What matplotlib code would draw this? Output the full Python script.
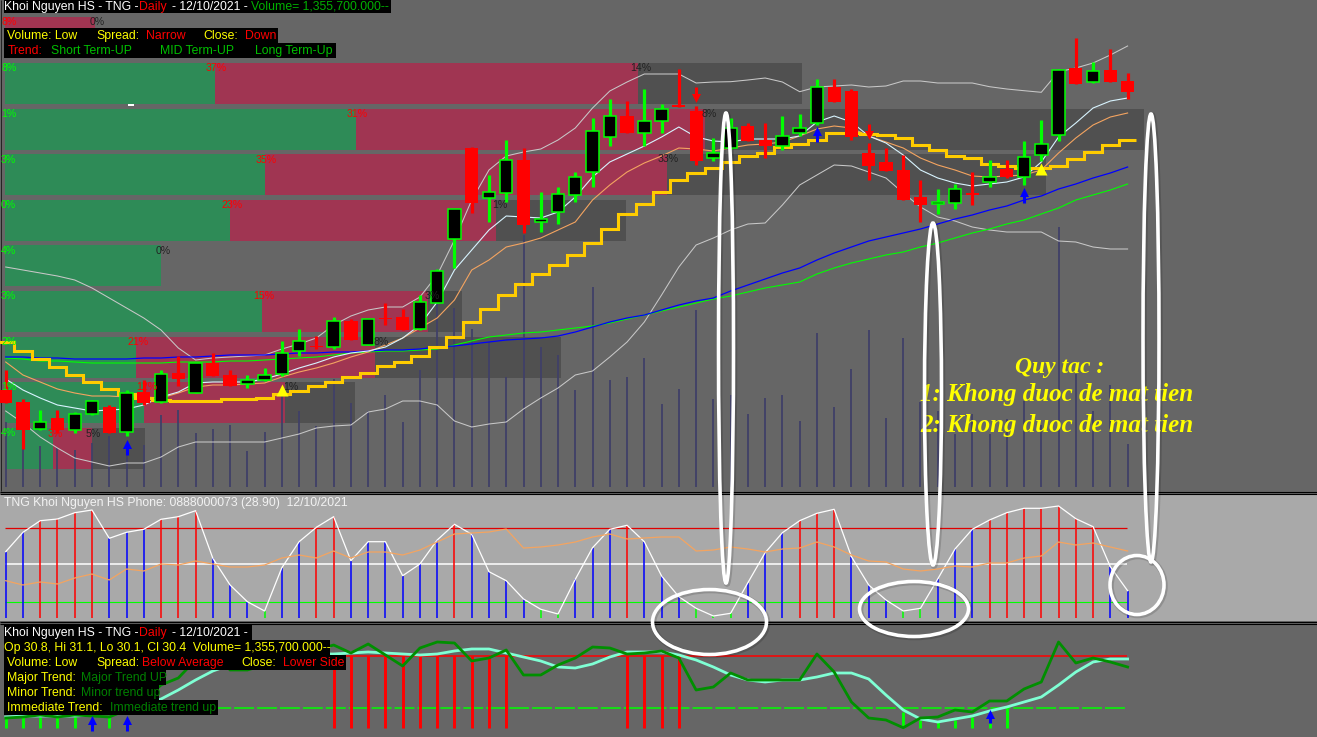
import numpy as np
import matplotlib
matplotlib.use("Agg")
import matplotlib.pyplot as plt
from matplotlib.patches import Ellipse, Rectangle

plt.rcParams['font.family'] = ['Liberation Sans', 'DejaVu Sans']

n_bars = 66
x0 = 5.7
step = 17.26

body_top = [389.5,401.7,422,418.3,414,400.7,406.7,392.7,391.7,373.7,372.7,363.3,362.7,375.3,380,375.3,353.3,341.3,345.7,321.3,
            320.7,319.3,318,316.7,302.3,270.7,209.3,147.7,192.3,160.3,160,219.3,194,177,131,116,115.7,121.3,109.3,105.3,
            110.7,153.3,128.3,125.7,140,136.3,128.3,87.3,87.3,91,152.7,162,169.7,196.7,202.3,189.3,193.3,176.7,169.3,157.3,
            144.3,70.3,67.7,70.7,70,81]
body_bot = [402.7,430,429.3,430,430,414.3,432.7,432.3,403.3,402.3,379,392.7,376,385.7,383.7,380.3,373.7,351.3,347,346.7,
            340,344.7,319,330,329.3,302.7,238.7,203.3,197.7,192.7,225,221.7,211.7,194.7,172.3,136.7,133.3,133.3,121.3,106.7,
            161,158.3,148.3,140.7,146,145.7,133.3,123.3,101.7,136.7,165.7,171,200,205,204.3,202.7,194.7,181.7,177.3,176.7,
            155.3,134.7,83.7,81.7,81.7,91.7]
wick_top = [370,399,410,410,412,400,405,390,380,370,356,363,352.7,370,375,367.7,341,329,336,316.7,
            319.3,319,303.3,309,295,269,209,147,175,140,147.7,192.3,187,171.7,118,99.3,101,89,104,69.3,
            106,138,118,123,123,116,114,79,79,89.3,143,147.7,155.3,180,189,184,172.3,160,160,141,
            120,69,38,62,49,73.3]
wick_low = [403,449,430,432.7,432.7,415,433,436,405,403,385.7,393,376,385.7,387.7,380.7,376,356,348.7,349,
            340,345,325,330,330,303,268.3,213.3,221.7,202.3,233.3,231.7,224.3,201.7,187.3,145.7,133.3,145.7,133.3,106.7,
            165.3,160.7,148.5,140.7,158,150,135.7,125,101.7,140,180,171,200,221.7,214.3,209.3,204.7,186.7,178,185,
            160.7,141,83.7,83,81.7,99]
# u = black body with green border, d = red body
candle_dir = ['d','d','u','d','u','u','d','u','d','u','d','u','d','d','u','u','u','u','d','u',
              'd','u','d','d','u','u','u','d','u','u','d','u','u','u','u','u','d','u','u','d',
              'd','u','u','d','d','u','u','u','d','d','d','d','d','d','u','u','d','u','d','u',
              'u','u','d','u','d','d']

volume_top = [422,449,446,448,450,443,436,450,445,415,410,433,429,425,451,432,393,411,426,379,
              403,411,395,422,370,300,308,329,342,377,235,347,355,390,287,380,377,358,404,389,
              310,399,395,414,398,395,421,333,407,369,330,418,338,402,411,434,414,434,419,401,
              425,227,374,411,385,444]

bb_upper = [267,270,273,276,280,288,298,308,318,330,348,360,358,357,356,355,349,344,338,325,
            316,310,307,307,297,275,240,200,170,156,152,149,140,128,108,91,82,74,74,74,
            83,82,81.7,80,78,82,91.7,87,86,85,87,86,81,81,83,83,83,86.7,89,90.7,
            92.3,71.7,68,63,55,46]
bb_lower = [411,423,437,448,458,462,466,463,463,457,447,442,442,442,442,442,438,434,428,426,
            425,412,409,401,401,405,421,427,424,422,409,398,388,375,371,357,342,322,295,267,
            245,238,230,224,223,205,185,175,165,166,172,178,193,207,217,221,227,230,232,232,
            232,241,242,247,249,249]
ma_short = [379,390,398,405,408,411,410,409,405,397,392,383,382,382,382,379,374,368,363,357,
            353,351,347,338,325,302,270,250,230,216,217,218,212,197,177,162,154,146,137,127,
            137,141,142,139,139,139,136,122,116,122,136,143,155,170,178,183,186,184,182,177,
            162,137,123,108,101,98]
ma_orange = [362,375,382,389,393,396,396,397,397,398,393,387,385,385,384,383,377,372,368,363,
             357,352,345,338,328,318,300,270,260,247,243,238,230,222,200,185,172,163,156,148,
             149,151,148,145,144,142,136,129,126,128,136,142,148,158,165,170,176,177,176,175,
             170,153,138,125,117,113]
ma_blue = [357,357,358,358,359,359,359,359,358,358,357,357,356,355,355,355,354,353,353,352,
           352,351,350,350,349,347,346,344,342,340,339,338,336,332,327,322,318,315,310,305,
           301,298,291,285,279,273,268,260,253,247,241,237,233,229,224,219,215,210,206,200,
           196,189,184,178,173,167]
ma_green = [358,359,361,361,362,363,363,363,363,363,362,362,362,361,361,360,359,358,357,355,
            353,352,351,351,350,349,345,341,337,335,333,332,330,328,326,323,319,315,311,307,
            303,299,296,292,288,285,282,274,268,263,259,255,252,247,243,238,233,229,224,220,
            214,208,200,195,190,184]
stop_line = [342,351,359,367,375,382,389,394,398,400,401,401,401,399,399,398,394,391,386,382,
             377,373,366,362,356,347,337,322,309,295,284,274,265,255,243,229,214,204,192,180,
             173,168,162,156,153,147,144,140,133,133,134,135,138,145,150,156,158,164,166,168,
             168,166,159,152,145,140]

# zone blocks of the top pane
zone_top = [63,109,154,200,245,291,337,382,428]
zone_green_end = [215,356,265,230,161,262,136,144,53]
zone_red_end = [638,705,667,496,161,428,375,285,92]
zone_dark_end = [802,1144,1046,626,161,462,561,355,145]

# oscillator pane
osc_top = [551.7,532.3,520.7,519,512.7,510,538.3,532.3,529.3,519.3,516.7,510.7,558.3,585,601.7,611,567.7,541.7,527.3,516.7,
           560.7,541.7,541.7,575.7,564,540,524.3,534.3,571.7,580.7,599,609.3,614,579.3,547.7,529.3,525.3,541.7,576,596.7,
           608.3,616,613.3,582.7,552.7,532.7,520.7,513.3,509.3,556.7,585,600,611,608.3,579,549,529.3,520,512.7,508.3,
           508.3,506,518.7,526.7,566.7,590.7]
osc_color = ['b','b','r','r','r','r','b','b','b','r','r','r','b','b','b','g','b','b','r','r',
             'b','b','b','b','b','b','r','b','b','b','b','g','g','b','b','b','r','b','b','b',
             'g','g','g','b','b','b','r','r','r','b','b','b','g','g','b','b','b','r','r','r',
             'r','r','r','r','b','b']
osc_signal = [580.7,585,582,584,578,574,580,569,571,564,565,561,564,567,567,565,558,555,558,551,
              558,552,552,555,550,542,534,533,532,529,548,547,545,542,537,534,539,538,537,537,
              551,550,547,549,552,549,548,542,547,555,561,562,569,571,569,566,567,563,563,558,
              556,542,545,543,547,551]

# trend pane
trend_fast = [718,717,715,717,715,716,717,710,700,685,678,660,650,670,670,665,660,660,650,645,
              653,644,655,666,648,642,643,661,658,650,675,675,665,658,647,648,654,653,651,658,
              690,687,673,680,680,680,680,654,672,702,718,720,727.7,718,717,710,712,701,701,689,
              682,642,663,658,662,667]
trend_slow = [717,716,716,716,716,715,712,708,705,699,690,680,671,665,660,657,655,654,654,654,
              653,652,653,654,655,654,651,649,649,653,657,661,667,668,664,657,652,652,652,655,
              660,667,675,680,682,680,680,677,673,673,679,695,710,719,722,719,716,711,707,702,
              697,685,672,662,659,659]
red_stems = [19,20,21,22,23,24,25,26,27,28,29,36,37,38,39]
green_stems = [0,1,2,3,4,6,52,53,54,55,56,57,58]
green_stem_top = [716.7,716.7,716.7,716.7,716.7,716.7,712,720,722,720,717,723,708.3]

x = x0 + step * np.arange(n_bars)
edges = np.append(x - step / 2, x[-1] + step / 2)

fig = plt.figure(figsize=(13.17, 7.37), dpi=100, facecolor='#666666')
ax = fig.add_axes([0, 0, 1, 1])
ax.set_xlim(0, 1317)
ax.set_ylim(737, 0)
ax.axis('off')

RED = '#ff0000'
LIME = '#00ff00'
ZONE_G = '#2e8b57'
ZONE_R = '#a03552'
ZONE_D = '#505050'
UI = 'Liberation Sans'


def block(x1, x2, y1, y2, color, z=1):
    ax.add_patch(Rectangle((x1, y1), x2 - x1, y2 - y1, fc=color, ec='none', zorder=z))


def label(px, py, s, color, size=8.8, z=20):
    ax.text(px, py, s, color=color, fontsize=size, family=UI, va='center', ha='left', zorder=z)


def arrow(i, tip, tail, color):
    d = 1 if tail > tip else -1
    ax.vlines(x[i], tip + d * 5, tail, color=color, lw=2.2, zorder=12)
    ax.scatter([x[i]], [tip + d * 3.5], marker='^' if d > 0 else 'v', s=42, color=color, lw=0, zorder=12)


# panes
block(0, 1317, 494, 621, '#a9a9a9')
ax.hlines([491.5, 493.5, 621.5, 623.5], 0, 1317, color='black', lw=0.8, zorder=2)
ax.vlines(1, 0, 491, color='#222222', lw=0.7, zorder=2)

# zones
block(5, 95, 17, 28, ZONE_R)
for t, g, r, d in zip(zone_top, zone_green_end, zone_red_end, zone_dark_end):
    block(5, g, t, t + 41, ZONE_G)
    block(g, r, t, t + 41, ZONE_R)
    block(r, d, t, t + 41, ZONE_D)
block(128, 134, 104, 106, 'white', z=2)

# volume
ax.vlines(x, volume_top, 487, color='#404068', lw=1.3, zorder=3)

# lines
ax.plot(x, bb_upper, color='#c8c8c8', lw=0.75, zorder=4)
ax.plot(x, bb_lower, color='#c8c8c8', lw=0.75, zorder=4)
ax.plot(x, ma_green, color=LIME, lw=0.8, zorder=5)
ax.plot(x, ma_blue, color='#0000ff', lw=0.9, zorder=5)
ax.plot(x, ma_orange, color='#f4a460', lw=0.8, zorder=5)
ax.plot(x, ma_short, color='#d8f4ff', lw=0.8, zorder=5)
ax.stairs(stop_line, edges, baseline=None, color='#ffcc00', lw=2.2, zorder=6)

# candles
for i in range(n_bars):
    up = candle_dir[i] == 'u'
    ax.vlines(x[i], wick_top[i], wick_low[i], color=LIME if up else RED, lw=2.3, zorder=7)
    if up:
        block_h = body_bot[i] - body_top[i]
        ax.add_patch(Rectangle((x[i] - 6.2, body_top[i]), 12.4, block_h, fc='black', ec=LIME, lw=1.1, zorder=8))
    else:
        block(x[i] - 6.6, x[i] + 6.6, body_top[i], body_bot[i], RED, z=8)

arrow(7, 440, 455, '#0000ff')
arrow(47, 127, 142, '#0000ff')
arrow(59, 188, 203, '#0000ff')
arrow(40, 101, 87, RED)
arrow(50, 138, 124, RED)
ax.scatter(x[[16, 60]], [390, 168.5], marker='^', s=75, color='#ffff00', lw=0, zorder=12)

# percent labels on the zones
for lx, ly, s, c in [(1, 22, '8%', RED), (90, 22, '0%', '#222222'), (1, 68, '8%', LIME), (206, 68, '37%', RED),
                     (630, 68, '14%', '#222222'), (1, 114, '1%', LIME), (347, 114, '31%', RED), (701, 114, '8%', '#222222'),
                     (1, 160, '3%', LIME), (256, 160, '35%', RED), (658, 159, '33%', '#222222'), (1, 205, '0%', LIME),
                     (221, 205, '23%', RED), (492, 205, '1%', '#222222'), (1, 251, '4%', LIME), (156, 251, '0%', '#222222'),
                     (1, 296, '3%', LIME), (253, 296, '15%', RED), (425, 296, '3%', '#222222'), (1, 342, '2%', LIME),
                     (127, 342, '21%', RED), (373, 342, '8%', '#222222'), (1, 387, '1%', LIME), (136, 387, '12%', RED),
                     (283, 387, '1%', '#222222'), (1, 433, '4%', LIME), (48, 434, '3%', RED), (86, 434, '5%', '#222222')]:
    ax.text(lx, ly, s, color=c, fontsize=7.6, family=UI, va='center', zorder=9)

# top pane header
block(4, 391, 0, 13, 'black', z=19)
block(4, 278, 28, 43, 'black', z=19)
block(4, 336, 43, 58, 'black', z=19)
label(4, 6.5, 'Khoi Nguyen HS - TNG - ', 'white')
label(139.5, 6.5, 'Daily', RED)
label(172, 6.5, '- 12/10/2021 -', 'white')
label(251, 6.5, 'Volume= 1,355,700.000--', '#00b000')
label(7, 36, 'Volume: Low', '#ffff00')
label(96, 36, 'Spread:', '#ffff00')
label(146, 36, 'Narrow', RED)
label(203, 36, 'Close:', '#ffff00')
label(245, 36, 'Down', RED)
label(8, 51, 'Trend:', RED)
label(51, 51, 'Short Term-UP', '#00c000')
label(160, 51, 'MID Term-UP', '#00c000')
label(255, 51, 'Long Term-Up', '#00c000')

# rules text
ax.text(1060, 367, 'Quy tac :', color='#ffff00', fontsize=17, family='Liberation Serif', style='italic',
        weight='bold', ha='center', va='center', zorder=15)
ax.text(920, 394, '1: Khong duoc de mat tien', color='#ffff00', fontsize=18, family='Liberation Serif', style='italic',
        weight='bold', va='center', zorder=15)
ax.text(920, 425, '2: Khong duoc de mat tien', color='#ffff00', fontsize=18, family='Liberation Serif', style='italic',
        weight='bold', va='center', zorder=15)

# oscillator pane
label(4, 502.5, 'TNG Khoi Nguyen HS Phone: 0888000073 (28.90)  12/10/2021', '#f2f2f2')
ax.hlines(527.7, 5, 1127, color='#e00000', lw=0.9, zorder=3)
ax.hlines(564.3, 5, 1127, color='white', lw=1.1, zorder=3)
ax.hlines(601.7, 5, 1127, color=LIME, lw=0.8, zorder=3)
stem_map = {'b': '#0000ff', 'r': RED, 'g': LIME}
ax.vlines(x, osc_top, 617.7, color=[stem_map[c] for c in osc_color], lw=1.1, zorder=4)
ax.plot(x, osc_top, color='white', lw=0.9, zorder=5)
ax.plot(x, osc_signal, color='#f4a460', lw=0.9, zorder=5)

# trend pane
ax.hlines(656, 5, 1127, color=RED, lw=1.1, zorder=3)
ax.hlines(708.3, 5, 1127, color=LIME, lw=1.1, linestyles=(0, (13, 2)), zorder=3)
ax.vlines(x[red_stems], 656, 727.7, color=RED, lw=2.1, zorder=4)
ax.vlines(x[green_stems], green_stem_top, 727.7, color=LIME, lw=2.1, zorder=4)
ax.plot(x, trend_slow, color='#7fffd4', lw=2.0, zorder=5)
ax.plot(x, trend_fast, color='#008f00', lw=2.0, zorder=6)
arrow(5, 716, 731, '#0000ff')
arrow(7, 716, 731, '#0000ff')
arrow(57, 710, 723, '#0000ff')

block(4, 252, 625, 640, 'black', z=19)
block(4, 330, 640, 655, 'black', z=19)
block(4, 346, 655, 670, 'black', z=19)
block(4, 166, 670, 685, 'black', z=19)
block(4, 159, 685, 700, 'black', z=19)
block(4, 218, 700, 715, 'black', z=19)
label(4, 633, 'Khoi Nguyen HS - TNG - ', 'white')
label(139.5, 633, 'Daily', RED)
label(172, 633, '- 12/10/2021 -', 'white')
label(4, 648, 'Op 30.8, Hi 31.1, Lo 30.1, Cl 30.4  Volume= 1,355,700.000--', '#ffff00')
label(7, 663, 'Volume: Low', '#ffff00')
label(96, 663, 'Spread:', '#ffff00')
label(142, 663, 'Below Average', RED)
label(241, 663, 'Close:', '#ffff00')
label(283, 663, 'Lower Side', RED)
label(7, 678, 'Major Trend:', '#ffff00')
label(81, 678, 'Major Trend UP', '#008000')
label(7, 693, 'Minor Trend:', '#ffff00')
label(81, 693, 'Minor trend up', '#008000')
label(7, 708, 'Immediate Trend:', '#ffff00')
label(110, 708, 'Immediate trend up', '#008000')

# hand drawn white marks
for cx, cy, w, h in [(726, 348, 15, 470), (933, 394, 17, 342), (1151, 338, 16, 448),
                     (709.5, 622, 114, 65), (914, 609, 109, 55), (1137, 585, 54, 59)]:
    ax.add_patch(Ellipse((cx + 1, cy + 1), w, h, fc='none', ec='black', lw=4, alpha=0.15, zorder=24))
    ax.add_patch(Ellipse((cx, cy), w, h, fc='none', ec='white', lw=2.6, zorder=25))

fig.savefig('out.png', dpi=100, facecolor=fig.get_facecolor())
